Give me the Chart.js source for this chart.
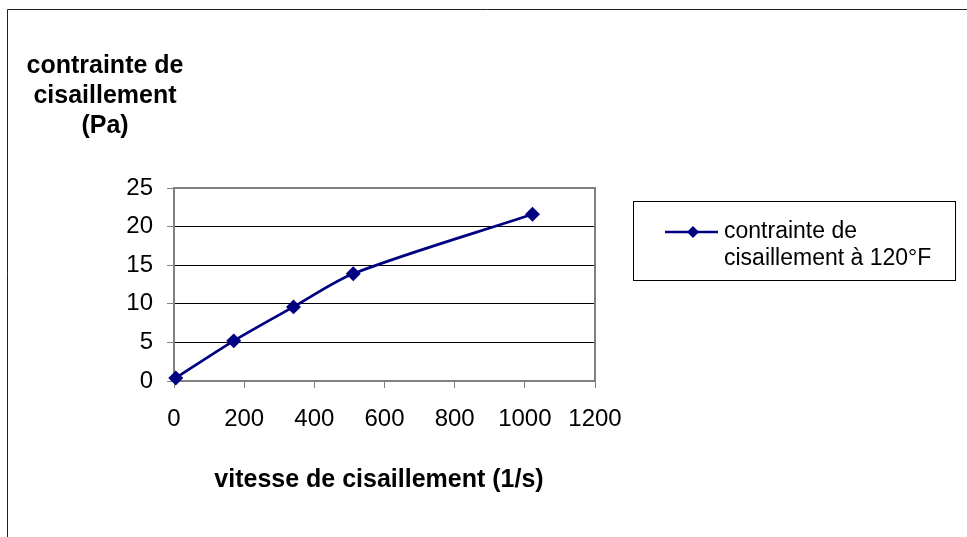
<!DOCTYPE html>
<html>
<head>
<meta charset="utf-8">
<script src="https://cdn.jsdelivr.net/npm/chart.js@4"></script>
<style>
  html, body { margin: 0; padding: 0; background: #fff; }
  #wrap { width: 967px; height: 537px; position: relative; }
</style>
</head>
<body>
<div id="wrap"><canvas id="c" width="967" height="537"></canvas></div>
<script>
// Shear rate (1/s) and measured shear stress (Pa) at 120°F
const shearRates  = [5.11, 170.3, 340.6, 510.9, 1021.8];
const shearStress = [0.4, 5.2, 9.6, 13.9, 21.6];
const xTickValues = [0, 200, 400, 600, 800, 1000, 1200];
const yTickValues = [0, 5, 10, 15, 20, 25];
const seriesLabel = ['contrainte de', 'cisaillement à 120°F'];
const yTitleLines = ['contrainte de', 'cisaillement', '(Pa)'];
const xTitleText  = 'vitesse de cisaillement (1/s)';

const FONT = '"Liberation Sans", Arial, sans-serif';
const NAVY = '#000080';
const GREY = '#808080';

const points = shearRates.map((x, i) => ({ x, y: shearStress[i] }));

// Frame, plot border, axis titles and legend
const decorations = {
  id: 'decorations',
  beforeDraw(chart) {
    const ctx = chart.ctx;
    ctx.save();
    ctx.fillStyle = '#fff';
    ctx.fillRect(0, 0, chart.width, chart.height);
    ctx.strokeStyle = '#222';
    ctx.lineWidth = 1;
    ctx.beginPath();
    ctx.moveTo(7.5, chart.height);
    ctx.lineTo(7.5, 9.5);
    ctx.lineTo(chart.width, 9.5);
    ctx.stroke();
    ctx.restore();
  },
  beforeDatasetsDraw(chart) {
    const ctx = chart.ctx;
    const a = chart.chartArea;
    ctx.save();
    ctx.strokeStyle = GREY;
    ctx.lineWidth = 2;
    ctx.beginPath();
    ctx.moveTo(a.left, a.top);
    ctx.lineTo(a.right, a.top);
    ctx.lineTo(a.right, a.bottom);
    ctx.stroke();
    ctx.restore();
  },
  afterDraw(chart) {
    const ctx = chart.ctx;
    ctx.save();
    ctx.fillStyle = '#000';
    ctx.textAlign = 'center';
    ctx.textBaseline = 'alphabetic';
    ctx.font = 'bold 25px ' + FONT;
    yTitleLines.forEach((t, i) => ctx.fillText(t, 105, 73 + i * 30));
    ctx.fillText(xTitleText, 379, 487);

    // legend box
    ctx.strokeStyle = '#000';
    ctx.lineWidth = 1;
    ctx.strokeRect(633.5, 201.5, 322, 79);
    ctx.strokeStyle = NAVY;
    ctx.lineWidth = 2.5;
    ctx.beginPath();
    ctx.moveTo(665, 232);
    ctx.lineTo(718, 232);
    ctx.stroke();
    ctx.fillStyle = NAVY;
    ctx.beginPath();
    ctx.moveTo(693, 226);
    ctx.lineTo(699, 232);
    ctx.lineTo(693, 238);
    ctx.lineTo(687, 232);
    ctx.closePath();
    ctx.fill();
    ctx.fillStyle = '#000';
    ctx.textAlign = 'left';
    ctx.textBaseline = 'middle';
    ctx.font = '23px ' + FONT;
    ctx.fillText(seriesLabel[0], 724, 232);
    ctx.fillText(seriesLabel[1], 724, 259);
    ctx.restore();
  }
};

new Chart(document.getElementById('c'), {
  type: 'scatter',
  data: {
    datasets: [{
      label: seriesLabel.join(' '),
      data: points,
      showLine: true,
      borderColor: NAVY,
      borderWidth: 2.8,
      backgroundColor: NAVY,
      pointStyle: 'rectRot',
      pointRadius: 5.5,
      pointHoverRadius: 5.5,
      pointBackgroundColor: NAVY,
      pointBorderColor: NAVY,
      tension: 0.3,
      clip: false
    }]
  },
  options: {
    responsive: false,
    devicePixelRatio: 1,
    animation: false,
    layout: { padding: { left: 104, right: 372, top: 188, bottom: 96 } },
    plugins: { legend: { display: false }, tooltip: { enabled: false }, title: { display: false } },
    scales: {
      x: {
        type: 'linear',
        min: 0, max: 1200,
        afterBuildTicks: s => { s.ticks = xTickValues.map(v => ({ value: v })); },
        afterFit: s => { s.height = 60; },
        ticks: { color: '#000', font: { family: FONT, size: 24 }, padding: 17, maxRotation: 0,
                 callback: v => String(v) },
        grid: { drawOnChartArea: false, drawTicks: true, tickLength: 7, color: GREY, lineWidth: 1 },
        border: { color: GREY, width: 2 }
      },
      y: {
        type: 'linear',
        min: 0, max: 25,
        afterBuildTicks: s => { s.ticks = yTickValues.map(v => ({ value: v })); },
        afterFit: s => { s.width = 70; },
        ticks: { color: '#000', font: { family: FONT, size: 24 }, padding: 14,
                 callback: v => String(v) },
        grid: {
          drawTicks: true, tickLength: 7, lineWidth: 1,
          color: c => (c.tick && c.tick.value === 25 ? GREY : '#000'),
          tickColor: GREY
        },
        border: { color: GREY, width: 2 }
      }
    }
  },
  plugins: [decorations]
});
</script>
</body>
</html>
